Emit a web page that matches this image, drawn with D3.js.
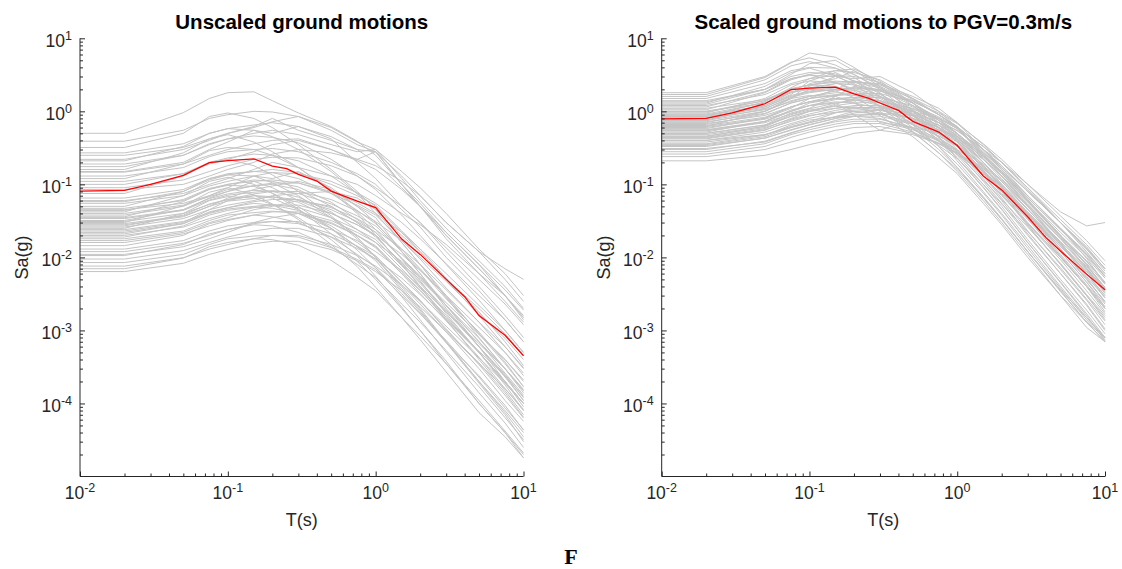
<!DOCTYPE html>
<html>
<head>
<meta charset="utf-8">
<script src="https://cdn.jsdelivr.net/npm/d3@7"></script>
<style>
  body { margin: 0; background: #fff; }
  text { font-family: Arial, "Liberation Sans", Helvetica, sans-serif; fill: #262626; }
  .grey { fill: none; stroke: #c4c4c4; stroke-width: 1; }
  .mean { fill: none; stroke: #ff0000; stroke-width: 1.3; }
  .axis line { stroke: #262626; stroke-width: 1; }
  .title { font-weight: bold; font-size: 20.5px; fill: #000; }
</style>
</head>
<body>
<script>
// periods of the mean spectra
const periods = [0.01, 0.02, 0.03, 0.05, 0.075, 0.1, 0.15, 0.2, 0.25, 0.3, 0.4, 0.5, 0.75, 1, 1.5, 2, 3, 4, 5, 7.5, 10];
const unscaledMean = [0.081, 0.083, 0.10, 0.133, 0.198, 0.212, 0.224, 0.178, 0.164, 0.137, 0.111, 0.081, 0.059, 0.048, 0.0178, 0.011, 0.005, 0.0029, 0.0016, 0.00086, 0.00045];
const scaledMean = [0.79, 0.80, 0.95, 1.27, 1.98, 2.08, 2.15, 1.74, 1.52, 1.30, 1.03, 0.73, 0.52, 0.34, 0.13, 0.084, 0.036, 0.0185, 0.0122, 0.0059, 0.0036];

// periods of the individual records
const periodsGrey = [0.01, 0.02, 0.05, 0.075, 0.1, 0.15, 0.2, 0.3, 0.5, 0.75, 1, 1.5, 2, 3, 5, 7.5, 10];

const unscaledRecords = [
  [0.5,0.5,0.96,1.5,1.8,1.85,1.4,0.95,0.62,0.39,0.25,0.1,0.05,0.018,0.006,0.0025,0.0013],
  [0.39,0.39,0.55,0.8,0.9,1.0,0.98,0.85,0.55,0.35,0.28,0.13,0.07,0.03,0.012,0.007,0.005],
  [0.32,0.32,0.5,0.85,0.95,0.8,0.6,0.35,0.16,0.08,0.045,0.016,0.008,0.003,0.0009,0.0004,0.0002],
  [0.27,0.27,0.36,0.5,0.58,0.65,0.7,0.62,0.45,0.3,0.28,0.1,0.055,0.022,0.008,0.003,0.0014],
  [0.25,0.25,0.32,0.42,0.5,0.6,0.72,0.85,0.6,0.38,0.3,0.15,0.09,0.04,0.013,0.006,0.003],
  [0.21,0.21,0.33,0.5,0.58,0.55,0.45,0.3,0.15,0.075,0.04,0.016,0.008,0.0028,0.0008,0.0003,0.00015],
  [0.19,0.19,0.25,0.35,0.42,0.5,0.55,0.48,0.35,0.28,0.3,0.12,0.06,0.025,0.009,0.004,0.002],
  [0.175,0.175,0.25,0.36,0.42,0.46,0.44,0.37,0.22,0.13,0.085,0.038,0.02,0.008,0.0026,0.001,0.0005],
  [0.16,0.16,0.27,0.42,0.48,0.38,0.28,0.17,0.08,0.04,0.02,0.008,0.004,0.0014,0.0004,0.00015,0.00007],
  [0.147,0.147,0.19,0.25,0.3,0.36,0.4,0.42,0.3,0.21,0.16,0.085,0.05,0.022,0.008,0.0036,0.0019],
  [0.13,0.13,0.17,0.24,0.28,0.3,0.31,0.28,0.2,0.14,0.1,0.045,0.026,0.01,0.0035,0.0014,0.0007],
  [0.12,0.12,0.19,0.29,0.32,0.3,0.25,0.17,0.085,0.042,0.024,0.0095,0.0048,0.0017,0.0005,0.00018,0.00008],
  [0.1,0.1,0.14,0.2,0.23,0.26,0.25,0.21,0.13,0.075,0.05,0.022,0.012,0.005,0.0016,0.0006,0.0003],
  [0.09,0.09,0.115,0.15,0.18,0.22,0.235,0.23,0.18,0.13,0.09,0.05,0.03,0.0135,0.005,0.0023,0.0012],
  [0.075,0.075,0.13,0.2,0.22,0.18,0.135,0.08,0.037,0.019,0.01,0.0037,0.0019,0.00068,0.00019,0.00007,0.00003],
  [0.065,0.065,0.085,0.12,0.14,0.15,0.16,0.145,0.1,0.07,0.052,0.023,0.013,0.0052,0.0018,0.0007,0.00033],
  [0.058,0.058,0.08,0.115,0.135,0.15,0.145,0.12,0.075,0.044,0.029,0.013,0.007,0.0029,0.0009,0.00035,0.00017],
  [0.055,0.055,0.07,0.095,0.11,0.13,0.145,0.14,0.11,0.077,0.055,0.03,0.018,0.0082,0.003,0.0014,0.0007],
  [0.05,0.05,0.08,0.12,0.135,0.13,0.105,0.07,0.035,0.018,0.01,0.004,0.002,0.0007,0.0002,0.000075,0.000035],
  [0.047,0.047,0.06,0.085,0.1,0.11,0.115,0.105,0.075,0.052,0.038,0.017,0.0095,0.0038,0.0013,0.0005,0.00024],
  [0.044,0.044,0.062,0.088,0.1,0.115,0.11,0.092,0.057,0.033,0.022,0.0097,0.0053,0.0022,0.0007,0.00026,0.00013],
  [0.042,0.042,0.07,0.11,0.125,0.1,0.075,0.046,0.021,0.0105,0.0055,0.0021,0.001,0.00038,0.0001,0.00004,0.000018],
  [0.04,0.04,0.052,0.068,0.08,0.096,0.104,0.104,0.08,0.056,0.04,0.022,0.013,0.006,0.0022,0.001,0.0005],
  [0.038,0.038,0.05,0.07,0.085,0.095,0.1,0.085,0.05,0.03,0.019,0.0085,0.0046,0.0019,0.0006,0.00023,0.00011],
  [0.036,0.036,0.058,0.086,0.097,0.094,0.076,0.05,0.025,0.0126,0.0072,0.0029,0.0014,0.0005,0.00014,0.000054,0.000025],
  [0.034,0.034,0.044,0.061,0.071,0.078,0.082,0.075,0.054,0.037,0.027,0.012,0.0068,0.0027,0.00095,0.00037,0.00017],
  [0.032,0.032,0.045,0.064,0.074,0.083,0.08,0.067,0.042,0.024,0.016,0.007,0.0038,0.0016,0.0005,0.00019,0.0001],
  [0.031,0.031,0.04,0.053,0.062,0.074,0.08,0.08,0.062,0.043,0.031,0.017,0.01,0.0047,0.0017,0.00078,0.0004],
  [0.03,0.03,0.051,0.078,0.09,0.072,0.054,0.033,0.015,0.0075,0.0039,0.0015,0.00075,0.00027,0.000075,0.000035,0.000018],
  [0.028,0.028,0.036,0.05,0.059,0.064,0.067,0.062,0.045,0.031,0.022,0.0098,0.0056,0.0022,0.00078,0.0003,0.00014],
  [0.027,0.027,0.038,0.054,0.062,0.07,0.068,0.057,0.035,0.02,0.0135,0.006,0.0032,0.00135,0.00043,0.00016,0.00008],
  [0.025,0.025,0.04,0.06,0.068,0.065,0.053,0.035,0.0175,0.0088,0.005,0.002,0.001,0.00035,0.0001,0.00004,0.00002],
  [0.024,0.024,0.031,0.041,0.048,0.058,0.062,0.062,0.048,0.034,0.024,0.013,0.008,0.0036,0.0013,0.0006,0.00031],
  [0.022,0.022,0.029,0.04,0.046,0.05,0.053,0.048,0.035,0.024,0.0176,0.0077,0.0044,0.0018,0.0006,0.00024,0.00011],
  [0.021,0.021,0.029,0.042,0.048,0.055,0.052,0.044,0.027,0.016,0.0105,0.0046,0.0025,0.00105,0.00034,0.00013,0.000063],
  [0.02,0.02,0.026,0.034,0.04,0.048,0.052,0.052,0.04,0.028,0.02,0.011,0.0066,0.003,0.0011,0.0005,0.00026],
  [0.019,0.019,0.027,0.038,0.044,0.049,0.047,0.04,0.025,0.014,0.0095,0.0042,0.0023,0.00095,0.0003,0.00011,0.000057],
  [0.018,0.018,0.023,0.032,0.038,0.041,0.043,0.04,0.029,0.02,0.0144,0.0063,0.0036,0.0014,0.0005,0.0002,0.00009],
  [0.016,0.016,0.021,0.027,0.032,0.038,0.042,0.042,0.032,0.022,0.016,0.0088,0.0053,0.0024,0.00088,0.0004,0.00021],
  [0.0145,0.0145,0.02,0.029,0.033,0.038,0.036,0.03,0.019,0.011,0.0073,0.0032,0.0017,0.00073,0.00023,0.000087,0.000044],
  [0.013,0.013,0.017,0.023,0.027,0.03,0.031,0.029,0.021,0.0143,0.0104,0.0046,0.0026,0.001,0.00036,0.00014,0.000065],
  [0.012,0.012,0.0156,0.02,0.024,0.029,0.031,0.031,0.024,0.017,0.012,0.0066,0.004,0.0018,0.00066,0.0003,0.000156],
  [0.0106,0.0106,0.015,0.021,0.024,0.028,0.027,0.022,0.014,0.008,0.0053,0.0023,0.0013,0.00053,0.00017,0.000064,0.000032],
  [0.0095,0.0095,0.0124,0.016,0.019,0.023,0.025,0.025,0.019,0.0133,0.0095,0.0052,0.0031,0.0014,0.00052,0.00024,0.000124],
  [0.0085,0.0085,0.011,0.015,0.018,0.0196,0.02,0.019,0.0136,0.0094,0.0068,0.003,0.0017,0.00068,0.00024,0.000094,0.000043],
  [0.0076,0.0076,0.0099,0.013,0.015,0.018,0.02,0.02,0.015,0.0106,0.0076,0.0042,0.0025,0.00114,0.00042,0.00019,0.0001],
  [0.007,0.007,0.0098,0.014,0.016,0.018,0.0175,0.0147,0.0091,0.0053,0.0035,0.0015,0.00084,0.00035,0.00011,0.000042,0.000021],
  [0.0064,0.0064,0.0083,0.011,0.0128,0.0154,0.0166,0.0166,0.0128,0.009,0.0064,0.0035,0.0021,0.00096,0.00035,0.00016,0.000083],
  [0.15,0.15,0.2,0.3,0.38,0.55,0.5,0.62,0.42,0.2,0.12,0.05,0.03,0.012,0.004,0.0016,0.0008],
  [0.085,0.085,0.1,0.13,0.16,0.2,0.26,0.3,0.27,0.22,0.28,0.1,0.05,0.02,0.007,0.003,0.0015],
  [0.06,0.06,0.075,0.1,0.12,0.16,0.2,0.17,0.13,0.1,0.07,0.04,0.028,0.015,0.006,0.003,0.0016],
  [0.045,0.045,0.055,0.07,0.09,0.13,0.12,0.15,0.09,0.05,0.035,0.012,0.006,0.002,0.0006,0.0002,0.0001],
  [0.035,0.035,0.045,0.065,0.08,0.11,0.09,0.06,0.04,0.028,0.02,0.008,0.005,0.0022,0.0006,0.00025,0.00012],
  [0.029,0.029,0.037,0.05,0.065,0.085,0.095,0.11,0.085,0.05,0.03,0.012,0.006,0.0022,0.0007,0.0003,0.00015],
  [0.026,0.026,0.034,0.045,0.052,0.06,0.07,0.075,0.08,0.065,0.045,0.02,0.012,0.005,0.002,0.0009,0.00045],
  [0.023,0.023,0.03,0.045,0.06,0.07,0.065,0.045,0.025,0.014,0.009,0.0035,0.0018,0.0007,0.0002,0.00008,0.00004],
  [0.017,0.017,0.022,0.03,0.035,0.045,0.05,0.06,0.05,0.03,0.02,0.008,0.004,0.0015,0.0005,0.0002,0.0001],
  [0.011,0.011,0.014,0.018,0.022,0.03,0.035,0.04,0.03,0.02,0.014,0.006,0.0035,0.0015,0.0005,0.0002,0.0001],
  [0.22,0.22,0.3,0.4,0.5,0.62,0.8,0.55,0.4,0.3,0.2,0.09,0.05,0.02,0.007,0.003,0.0015],
  [0.11,0.11,0.14,0.19,0.22,0.28,0.35,0.4,0.3,0.22,0.18,0.11,0.07,0.03,0.012,0.005,0.0025]
];

const scaledRecords = [
  [1.8,1.8,3.0,4.7,5.4,4.3,3.2,2.0,0.9,0.45,0.23,0.09,0.045,0.016,0.0045,0.0016,0.00072],
  [1.7,1.7,2.9,4.6,6.3,5.5,4.0,2.4,1.2,0.6,0.34,0.13,0.065,0.023,0.0068,0.0026,0.0012],
  [1.6,1.6,2.7,4.2,4.8,3.9,2.9,1.8,0.8,0.4,0.21,0.08,0.04,0.0145,0.004,0.0015,0.0008],
  [1.5,1.5,2.4,3.6,4.0,3.9,3.2,2.1,1.05,0.53,0.3,0.12,0.06,0.021,0.006,0.0023,0.00105],
  [1.4,1.4,2.0,2.8,3.2,3.6,3.4,2.7,1.5,0.9,0.6,0.27,0.15,0.062,0.02,0.0078,0.0039],
  [1.3,1.3,2.2,3.4,3.9,3.1,2.3,1.4,0.65,0.33,0.17,0.065,0.033,0.012,0.0036,0.0015,0.0008],
  [1.25,1.25,2.0,3.0,3.4,3.25,2.6,1.75,0.88,0.44,0.25,0.1,0.05,0.0175,0.005,0.0019,0.0009],
  [1.2,1.2,1.7,2.4,2.8,3.1,3.0,2.5,1.45,0.9,0.6,0.26,0.14,0.06,0.019,0.0072,0.0036],
  [1.15,1.15,1.85,2.8,3.1,3.0,2.4,1.6,0.8,0.4,0.23,0.092,0.046,0.016,0.0046,0.0017,0.0008],
  [1.1,1.1,1.45,2.0,2.3,2.5,2.6,2.2,1.3,0.8,0.5,0.24,0.14,0.058,0.02,0.008,0.0038],
  [1.05,1.05,1.8,2.7,3.2,2.5,1.9,1.15,0.53,0.27,0.15,0.06,0.03,0.011,0.003,0.0013,0.0008],
  [1.0,1.0,1.4,2.0,2.3,2.6,2.5,2.1,1.3,0.75,0.5,0.22,0.12,0.05,0.016,0.006,0.003],
  [0.95,0.95,1.5,2.3,2.6,2.5,2.0,1.3,0.67,0.33,0.19,0.076,0.038,0.0133,0.0038,0.0014,0.00075],
  [0.92,0.92,1.3,1.85,2.1,2.4,2.3,1.95,1.2,0.7,0.46,0.2,0.11,0.046,0.015,0.0055,0.0028],
  [0.88,0.88,1.15,1.6,1.85,2.0,2.1,1.9,1.4,0.9,0.62,0.3,0.17,0.07,0.025,0.0097,0.0044],
  [0.85,0.85,1.35,2.05,2.3,2.2,1.8,1.2,0.6,0.3,0.17,0.068,0.034,0.012,0.0034,0.0013,0.0007],
  [0.82,0.82,1.15,1.65,1.9,2.1,2.05,1.7,1.05,0.6,0.41,0.18,0.1,0.041,0.013,0.005,0.0025],
  [0.8,0.8,1.05,1.35,1.6,1.9,2.1,2.0,1.4,0.9,0.62,0.3,0.18,0.08,0.03,0.013,0.007],
  [0.77,0.77,1.08,1.55,1.8,2.0,1.95,1.6,1.0,0.58,0.39,0.17,0.092,0.039,0.012,0.0046,0.0023],
  [0.74,0.74,1.2,1.8,2.0,1.9,1.55,1.0,0.52,0.27,0.16,0.065,0.033,0.012,0.0035,0.0013,0.0007],
  [0.72,0.72,0.94,1.3,1.5,1.65,1.75,1.6,1.15,0.8,0.58,0.25,0.145,0.058,0.02,0.008,0.0036],
  [0.7,0.7,1.0,1.4,1.6,1.8,1.75,1.5,0.9,0.53,0.35,0.155,0.084,0.035,0.011,0.0042,0.0021],
  [0.68,0.68,0.88,1.15,1.35,1.65,1.75,1.75,1.35,0.95,0.68,0.36,0.22,0.1,0.037,0.017,0.009],
  [0.66,0.66,0.92,1.3,1.5,1.7,1.65,1.4,0.86,0.5,0.33,0.145,0.08,0.033,0.0105,0.004,0.002],
  [0.64,0.64,0.83,1.15,1.35,1.5,1.55,1.4,1.0,0.7,0.5,0.22,0.13,0.052,0.018,0.007,0.0032],
  [0.62,0.62,1.0,1.5,1.65,1.6,1.3,0.87,0.45,0.23,0.14,0.055,0.028,0.01,0.003,0.0011,0.0007],
  [0.6,0.6,0.78,1.0,1.2,1.45,1.55,1.55,1.2,0.84,0.6,0.33,0.2,0.09,0.033,0.015,0.0078],
  [0.58,0.58,0.81,1.15,1.35,1.5,1.45,1.2,0.75,0.44,0.29,0.13,0.07,0.029,0.0093,0.0035,0.0017],
  [0.56,0.56,0.73,1.0,1.2,1.3,0.9,0.55,0.8,0.6,0.42,0.2,0.11,0.045,0.016,0.006,0.0028],
  [0.54,0.54,0.7,0.92,1.08,1.3,1.4,1.4,1.08,0.76,0.54,0.3,0.18,0.08,0.03,0.0135,0.007],
  [0.52,0.52,0.73,1.04,1.2,1.35,1.3,1.1,0.68,0.39,0.26,0.115,0.062,0.026,0.0083,0.0031,0.0016],
  [0.5,0.5,0.65,0.85,1.0,1.2,1.3,1.35,1.1,0.8,0.6,0.33,0.2,0.1,0.042,0.027,0.03],
  [0.48,0.48,0.62,0.86,1.0,1.1,1.15,1.05,0.77,0.53,0.38,0.17,0.096,0.038,0.013,0.0053,0.0024],
  [0.46,0.46,0.6,0.78,0.92,1.1,1.2,1.2,0.92,0.64,0.46,0.25,0.15,0.069,0.025,0.0115,0.006],
  [0.45,0.45,0.63,0.9,1.04,1.17,1.12,0.95,0.58,0.34,0.225,0.1,0.054,0.0225,0.0072,0.0027,0.00135],
  [0.43,0.43,0.56,0.73,0.86,1.03,1.12,1.12,0.86,0.6,0.43,0.24,0.14,0.065,0.024,0.011,0.0056],
  [0.42,0.42,0.55,0.76,0.88,0.97,1.0,0.92,0.67,0.46,0.34,0.15,0.085,0.034,0.012,0.0046,0.0021],
  [0.4,0.4,0.52,0.68,0.8,0.96,1.04,1.04,0.8,0.56,0.4,0.22,0.13,0.06,0.022,0.01,0.0052],
  [0.38,0.38,0.48,0.62,0.72,0.95,1.1,1.15,0.95,0.7,0.5,0.25,0.15,0.065,0.024,0.0105,0.0055],
  [0.36,0.36,0.47,0.65,0.76,0.83,0.86,0.8,0.58,0.4,0.29,0.13,0.072,0.029,0.01,0.004,0.0018],
  [0.35,0.35,0.45,0.6,0.7,0.84,0.91,0.91,0.7,0.49,0.35,0.19,0.115,0.052,0.019,0.0088,0.0046],
  [0.33,0.33,0.43,0.56,0.66,0.8,0.86,0.86,0.66,0.46,0.33,0.18,0.11,0.05,0.018,0.0083,0.0043],
  [0.31,0.31,0.38,0.5,0.6,0.75,0.85,0.95,0.8,0.6,0.45,0.23,0.13,0.055,0.02,0.009,0.0045],
  [0.3,0.3,0.39,0.51,0.6,0.72,0.78,0.78,0.6,0.42,0.3,0.165,0.1,0.045,0.0165,0.0075,0.0039],
  [0.28,0.28,0.36,0.48,0.56,0.67,0.73,0.73,0.56,0.39,0.28,0.154,0.092,0.042,0.0154,0.007,0.0036],
  [0.26,0.26,0.33,0.44,0.52,0.62,0.68,0.68,0.52,0.36,0.26,0.14,0.086,0.039,0.0143,0.0065,0.0034],
  [0.24,0.24,0.3,0.38,0.44,0.55,0.6,0.62,0.5,0.37,0.27,0.15,0.09,0.04,0.015,0.0068,0.0035],
  [0.21,0.21,0.25,0.3,0.35,0.42,0.5,0.55,0.48,0.36,0.27,0.14,0.085,0.038,0.014,0.0065,0.0033],
  [1.0,1.0,1.3,1.8,2.2,3.0,2.8,3.0,1.8,1.0,0.6,0.25,0.13,0.05,0.015,0.006,0.003],
  [0.9,0.9,1.2,1.7,2.6,3.4,2.6,1.6,0.9,0.55,0.45,0.18,0.09,0.035,0.01,0.004,0.002],
  [0.75,0.75,1.0,1.5,2.4,2.8,3.6,2.4,1.3,0.7,0.42,0.16,0.08,0.028,0.008,0.003,0.0015],
  [0.62,0.62,0.8,1.1,1.5,2.0,2.6,2.3,1.5,1.0,0.7,0.3,0.16,0.06,0.02,0.009,0.0045],
  [0.55,0.55,0.72,1.0,1.3,1.5,1.4,0.7,0.6,0.5,0.35,0.15,0.08,0.03,0.01,0.004,0.002],
  [0.5,0.5,0.65,0.95,1.1,1.6,2.2,1.9,1.3,0.75,0.5,0.2,0.1,0.04,0.013,0.005,0.0025],
  [0.44,0.44,0.58,0.8,1.0,1.25,1.5,1.3,1.0,0.7,0.55,0.3,0.2,0.09,0.03,0.013,0.0065],
  [0.4,0.4,0.48,0.6,0.7,0.85,1.0,0.9,1.0,0.8,0.58,0.28,0.16,0.07,0.025,0.011,0.0055],
  [0.34,0.34,0.43,0.55,0.65,0.8,0.95,1.05,0.9,0.65,0.48,0.27,0.17,0.08,0.03,0.014,0.007],
  [1.35,1.35,2.0,3.2,4.5,5.0,3.6,2.2,1.0,0.5,0.28,0.11,0.055,0.02,0.006,0.0022,0.001],
  [0.98,0.98,1.4,2.1,2.8,3.6,3.8,2.6,1.3,0.65,0.38,0.15,0.075,0.027,0.008,0.003,0.0014],
  [0.85,0.85,1.1,1.5,2.0,2.4,2.5,2.4,1.6,1.1,0.7,0.35,0.2,0.085,0.03,0.012,0.006]
];

const xTicks = [0.01, 0.1, 1, 10];
const yTicks = [1e-4, 1e-3, 1e-2, 1e-1, 1, 10];
const titles = ['Unscaled ground motions', 'Scaled ground motions to PGV=0.3m/s'];

const width = 1122, height = 569;
const yTop = 38.3, yBottom = 476.5;
const panels = [
  { x0: 80, x1: 523.5, title: titles[0], records: unscaledRecords, mean: unscaledMean },
  { x0: 661.7, x1: 1105, title: titles[1], records: scaledRecords, mean: scaledMean }
];

const svg = d3.select('body')
  .append('svg')
  .attr('width', width)
  .attr('height', height);

// minor tick positions 2..9 x decade
function minors(lo, hi) {
  const out = [];
  for (let e = Math.round(Math.log10(lo)); e < Math.round(Math.log10(hi)); e++) {
    for (let m = 2; m <= 9; m++) out.push(m * Math.pow(10, e));
  }
  return out;
}

function powLabel(sel, v) {
  const e = Math.round(Math.log10(v));
  sel.append('tspan').text('10');
  sel.append('tspan').attr('dy', -7).style('font-size', '12.5px').text(e);
}

panels.forEach(p => {
  const x = d3.scaleLog().domain([0.01, 10]).range([p.x0, p.x1]);
  const y = d3.scaleLog().domain([1e-5, 10]).range([yBottom, yTop]);
  const g = svg.append('g');

  const line = d3.line()
    .x(d => x(d[0]))
    .y(d => y(d[1]));

  // grey records
  g.append('g')
    .selectAll('path')
    .data(p.records)
    .join('path')
    .attr('class', 'grey')
    .attr('d', r => line(r.map((v, i) => [periodsGrey[i], v])));

  // mean spectrum
  g.append('path')
    .attr('class', 'mean')
    .attr('d', line(p.mean.map((v, i) => [periods[i], v])));

  // x axis
  const ax = g.append('g').attr('class', 'axis')
    .attr('transform', `translate(0,${yBottom})`);
  ax.call(d3.axisBottom(x).tickValues(xTicks).tickSize(-5).tickFormat(''));
  ax.append('g').call(d3.axisBottom(x).tickValues(minors(0.01, 10)).tickSize(-3).tickFormat(''))
    .select('.domain').remove();
  ax.select('.domain').attr('d', `M${p.x0},0H${p.x1}`).attr('stroke', '#262626').attr('fill', 'none');

  // y axis
  const ay = g.append('g').attr('class', 'axis')
    .attr('transform', `translate(${p.x0},0)`);
  ay.call(d3.axisLeft(y).tickValues(yTicks).tickSize(-5).tickFormat(''));
  ay.append('g').call(d3.axisLeft(y).tickValues(minors(1e-5, 10)).tickSize(-3).tickFormat(''))
    .select('.domain').remove();
  ay.select('.domain').attr('d', `M0,${yBottom}V${yTop}`).attr('stroke', '#262626').attr('fill', 'none');

  // tick labels
  g.selectAll('.xl')
    .data(xTicks)
    .join('text')
    .attr('class', 'xl')
    .attr('x', d => x(d))
    .attr('y', yBottom + 22.5)
    .attr('text-anchor', 'middle')
    .style('font-size', '17.5px')
    .each(function (d) { powLabel(d3.select(this), d); });

  g.selectAll('.yl')
    .data(yTicks)
    .join('text')
    .attr('class', 'yl')
    .attr('x', p.x0 - 8)
    .attr('y', d => y(d) + 8.5)
    .attr('text-anchor', 'end')
    .style('font-size', '17.5px')
    .each(function (d) { powLabel(d3.select(this), d); });

  // axis titles
  const cx = (p.x0 + p.x1) / 2;
  g.append('text')
    .attr('x', cx)
    .attr('y', 526)
    .attr('text-anchor', 'middle')
    .style('font-size', '18px')
    .text('T(s)');

  g.append('text')
    .attr('transform', `translate(${p.x0 - 52},${(yTop + yBottom) / 2}) rotate(-90)`)
    .attr('text-anchor', 'middle')
    .style('font-size', '18px')
    .text('Sa(g)');

  g.append('text')
    .attr('class', 'title')
    .attr('x', cx)
    .attr('y', 28.5)
    .attr('text-anchor', 'middle')
    .text(p.title);
});

svg.append('text')
  .attr('x', 571)
  .attr('y', 564)
  .attr('text-anchor', 'middle')
  .style('font-family', '"Liberation Serif", "Times New Roman", serif')
  .style('font-weight', 'bold')
  .style('font-size', '22px')
  .style('fill', '#000')
  .text('F');
</script>
</body>
</html>
